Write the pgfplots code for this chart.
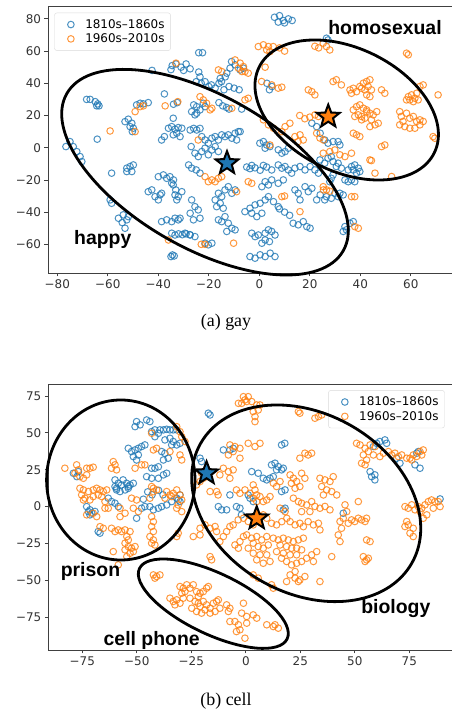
\documentclass[border=0pt]{standalone}
\usepackage{fontspec}
\setmainfont{Liberation Serif}
\newfontfamily\dejavu{DejaVu Sans}
\newfontfamily\lsans{Liberation Sans}
\usepackage{pgfplots}
\pgfplotsset{compat=1.18}
\definecolor{cb}{HTML}{1F77B4}
\definecolor{co}{HTML}{FF7F0E}
\pgfdeclareplotmark{fstar}{%
 \pgfpathmoveto{\pgfpointpolar{90}{\pgfplotmarksize}}%
 \pgfpathlineto{\pgfpointpolar{126}{0.42\pgfplotmarksize}}%
 \pgfpathlineto{\pgfpointpolar{162}{\pgfplotmarksize}}%
 \pgfpathlineto{\pgfpointpolar{198}{0.42\pgfplotmarksize}}%
 \pgfpathlineto{\pgfpointpolar{234}{\pgfplotmarksize}}%
 \pgfpathlineto{\pgfpointpolar{270}{0.42\pgfplotmarksize}}%
 \pgfpathlineto{\pgfpointpolar{306}{\pgfplotmarksize}}%
 \pgfpathlineto{\pgfpointpolar{342}{0.42\pgfplotmarksize}}%
 \pgfpathlineto{\pgfpointpolar{18}{\pgfplotmarksize}}%
 \pgfpathlineto{\pgfpointpolar{54}{0.42\pgfplotmarksize}}%
 \pgfpathclose
 \pgfusepathqfillstroke
}
\pgfplotsset{
 myaxis/.style={scale only axis, anchor=south west,
  axis line style={black!75, line width=0.8bp},
  tick align=outside, major tick length=3.5bp,
  tick style={black!75, line width=0.8bp},
  xtick pos=bottom, ytick pos=left,
  ticklabel style={font=\dejavu\fontsize{12}{12}\selectfont, text=black!80},
  legend cell align=left,
  legend style={draw=black!15, rounded corners=2.5bp, fill=white, fill opacity=0.8, text opacity=1,
   font=\dejavu\fontsize{12}{14}\selectfont, inner xsep=4bp, inner ysep=4.5bp, row sep=0bp,
   /tikz/every even column/.append style={column sep=5bp}},
 },
 bser/.style={draw=none, mark=o, mark size=3.3bp, mark options={draw=cb, line width=1bp, draw opacity=0.8}},
 oser/.style={draw=none, mark=o, mark size=3.3bp, mark options={draw=co, line width=1bp, draw opacity=0.8}},
 bstar/.style={only marks, mark=fstar, mark size=12bp, mark options={fill=cb, draw=black, line width=2bp}},
 ostar/.style={only marks, mark=fstar, mark size=12bp, mark options={fill=co, draw=black, line width=2bp}},
}
\begin{document}
\begin{tikzpicture}
\path[use as bounding box] (0bp,0bp) rectangle (452bp,716bp);
% ---------------- (a) gay ----------------
\begin{axis}[myaxis, at={(48bp,443bp)}, width=406bp, height=267bp,
 xmin=-83.7, xmax=77.1, ymin=-77.8, ymax=88,
 xtick={-80,-60,-40,-20,0,20,40,60}, xticklabels={−80,−60,−40,−20,0,20,40,60},
 ytick={-60,-40,-20,0,20,40,60,80}, yticklabels={−60,−40,−20,0,20,40,60,80},
 legend image code/.code={\path[mark repeat=2,mark phase=2,#1,draw=none] plot coordinates {(0bp,0bp) (12.4bp,0bp) (24.8bp,0bp)};},
 legend style={at={(0.0155,0.975)}, anchor=north west}]
\addplot[bser] coordinates {
(6,81) (8,82) (9.5,79) (11.5,80) (7.5,78) (10,77.5) (13,79)
(-24,59) (-22.5,59) (-42.5,48)
(-34.5,51) (-33,52) (-31,50) (-30,48) (-35,48.5) (-29,52) (-27.4,49)
(-11,53.5) (-9.6,51.5) (-7.6,48.3) (-6.3,49.4) (-11.6,49.4) (-12.9,46.3)
(-24,47) (-23.5,44) (-25,41) (-23,40) (-21.5,41) (-20,38) (-19,39) (-17.5,37) (-16,40) (-15,41) (-15.5,43) (-13.5,44)
(-12,38) (-10,37) (-8,36) (-14,36) (3,40) (5,38) (4,36)
(-68.4,30) (-67,30) (-65,28.6) (-64,27.2) (-63.5,26) (-64.4,26)
(-48.6,26.6) (-47.2,27.6) (-45.9,27.2) (-44,28)
(-37.6,33.4) (-32.5,28) (-34,27)
(-26,26.6) (-24.8,25.5) (-23.5,23.5) (-24.8,21.4) (-26.8,22.4) (-25.5,20.4) (-22.2,27.6) (-21.5,25.5)
(-16,28) (-14.5,26) (-13,25) (-12,24) (-7,24)
(-53.2,16.2) (-51.9,17.7) (-50.5,15.2) (-51.2,13.1) (-49.9,12.1) (-50.3,10)
(-34.1,18.3) (-38.7,4.8) (-37.6,6.9)
(-36,12.1) (-34.7,13.1) (-33.4,11.5) (-32.1,12.5) (-30.7,12.1) (-32.7,9) (-31.4,6.9) (-34.1,8)
(-27.4,11) (-26,12) (-24.8,11) (-23.5,12)
(-64.2,5.3)
(-76.6,0.7) (-75,3.8) (-73.7,0.7) (-72.3,-2.4) (-71,-5.5) (-70.3,-8.6)
(-22.8,6.9) (-21.5,4.8) (-20.2,2.8) (-18.8,5.9) (-17.5,6.9) (-16.2,4.8) (-14.9,8) (-13.6,6.9) (-12.3,8) (-10.9,5.9) (-9.6,9) (-8.3,10)
(-27,0.7) (-25.5,-3.4) (-24.2,-5.5) (-22.8,-2.4) (-21.5,-0.3) (-20.2,-4.4) (-18.8,-1.4) (-17.5,0.7) (-16.2,-2.4)
(-28,-10.7) (-26.8,-12.7) (-25,-13.8) (-23.5,-15.8)
(-58.5,-15.8)
(-52.5,-12.7) (-51.2,-11.7) (-49.9,-10.7) (-52.5,-14.8) (-50.5,-14.8)
(-59.1,-32.4) (-58.5,-34.5)
(-55.8,-43.8) (-53.9,-41.7) (-52.5,-44.8) (-51.9,-42.8) (-53.2,-50) (-54.3,-46.5)
(-40,-18) (-38,-16.9) (-36.7,-19) (-35.4,-18) (-34,-20) (-34.7,-22)
(-44,-27.3) (-42.6,-26.2) (-41.3,-30.4) (-39.3,-29.3) (-40,-32.4) (-38.7,-28.3)
(-34.1,-23.1) (-33.1,-26.2) (-33.4,-29.3) (-32.1,-30.4) (-32.7,-32.4) (-30.7,-27.3)
(-38.7,-45.9) (-36.7,-44.8) (-34.7,-45.9) (-33.4,-43.8) (-32.1,-44.8) (-31.4,-43.8)
(-34.7,-53.1) (-33.4,-54.2) (-32,-53.5) (-30.5,-54) (-29,-53.5) (-27.5,-54)
(-35,-67.6) (-34.4,-66.6) (-33.7,-67.2)
(-26.8,-32.4) (-25.5,-36.6) (-24.2,-38.6) (-27.4,-40.7) (-26.1,-44.8) (-23.5,-43.8)
(-29.4,-53.1) (-27.4,-54.2) (-25.5,-55.2)
(-17.5,-32.4) (-16.2,-28.3) (-14.9,-30.4) (-13.6,-26.2) (-12.3,-24.2) (-10.9,-28.3) (-9.6,-26.2) (-16.9,-36.6) (-15.5,-34.5) (-14.3,-37.6)
(-16.2,-44.8) (-14.9,-45.9) (-13.6,-42.8) (-12.3,-46.9) (-10.9,-50) (-9.6,-51) (-12.9,-52)
(-21.5,-59.3) (-20.2,-60.3) (-18.8,-59.3)
(-5,-12) (-3.7,-13) (-3,-11) (-1.7,-12.5) (0.3,-14) (1.6,-11) (2.9,-12) (4.9,-13.8) (7.5,-10.7) (8.9,-12.7) (10.2,-11.7) (11.5,-13.8) (12.8,-15.8) (14.1,-12.7) (16.1,-11.7) (18.1,-13.8) (20.1,-11.7) (22,-13.8) (23.4,-15.8)
(0.2,2.8) (1.6,3.8) (2.9,1.7) (4.2,0.7) (2.3,-0.3)
(7.5,-1.3) (8.9,-3.4) (10.2,-2.4) (11.5,-0.3)
(-7.6,10) (-9,4.8)
(-5.7,-39.7) (-3.7,-37.6) (-1.7,-35.5) (0.3,-34.5) (2.3,-32.4) (3.6,-30.4) (5.6,-33.5) (7.5,-36.6) (-3,-40.7) (-1,-42.8) (1,-40.7)
(2.3,-21.1) (3.6,-23.1) (4.9,-20) (1,-24.2) (7.5,-22.1) (9.5,-20)
(-3,-53.1) (-1.7,-55.2) (-0.4,-54.2) (2.3,-53.1) (3.6,-51) (4.9,-52) (6.2,-54.2) (2.3,-57.3) (1,-59.3) (4,-58.3)
(-3.7,-67.6) (-1.7,-68.6) (0.3,-66.5) (2.3,-67.6) (4.3,-65.5) (6.2,-67.6)
(14.1,-26.2) (15.4,-28.3) (18.1,-24.2) (19.4,-27.3) (20.8,-25.2) (16.1,-32.4)
(13.4,-46.9) (15.4,-47.9) (17.4,-45.9) (18.8,-49) (20.1,-50)
(22.7,-32.4) (24.1,-29.3)
(20.8,15.2) (22.7,13.1) (24.1,9)
(26.6,68) (27.2,66.9)
(25.9,4.8) (27.2,2.8) (31.2,3.8) (31.9,1.7) (29.2,3.8)
(24,-7.6) (25.9,-9.6) (27.2,-6.5) (28.5,-5.5) (29.2,-8.6) (31.2,-9.6) (30.5,-11.7) (32.5,-12.7)
(36.5,-11.7) (37.8,-10.7) (39.2,-12.7) (39.8,-14.8) (38.5,-15.8) (37.2,-13.8) (35.2,-13.8)
(29.2,-16.9) (28.5,-19) (27.9,-21.1) (33.9,-20) (35.2,-21.1) (36.5,-20) (37.8,-21.1)
(26.6,-30.4) (25.9,-32.4) (28.5,-31.4) (29.9,-28.3) (31.2,-30.4) (31.9,-28.3) (33.2,-29.3)
(33.9,-49) (34.5,-51) (33.2,-52) (35.9,-46.9) (37.2,-45.9)
(10,-40) (12,-42) (8,-38)
};
\addlegendentry{1810s–1860s}
\addplot[oser] coordinates {
(-0.4,62.8) (1.6,63.9) (3.6,62.8) (5.5,62.8) (2.9,60.7) (4.2,59.7) (8,62) (10,60)
(25.3,64.9) (26.6,62.8) (27.9,60.7) (22,63) (23.5,62)
(2.3,50)
(-9.6,54.5) (-7.6,52.5) (-6.3,50.4) (-5.7,47.3) (-4.4,46.3) (-8.3,49.4) (-6.9,47.3)
(-16.2,48.3) (-14.9,47.3) (-33,52.5)
(0.9,41.1) (4.9,39) (7.5,37) (8.9,37.6)
(-5.7,29.7) (-4.4,30.7)
(-23.5,31.7) (-22.2,29.7) (-20.9,27.6) (-19.5,23.5) (-18.8,24.5)
(-10.9,24.5) (-37.3,26) (-32.3,28.6)
(-49.2,22.4) (-47.2,25.5) (-45.9,26)
(-59.1,10.4) (-49.2,10) (-24.2,4.8)
(-21.5,-18) (-20.2,-21.1) (-18.8,-20) (-17.5,-21.1) (-16.2,-19) (-14.9,-18)
(-9,-27.3) (-4.4,-21.1) (-3,-22.1)
(8.9,-30.4) (10,-30) (16.1,-39.7)
(-10.2,-59.3) (-36,-57.3) (-23,-60) (-21.5,-60)
(4.2,1.7)
(20.8,34.8) (22,32.8) (19.4,35.9)
(14.1,6.9) (16.1,8) (17.4,4.8) (15.4,3.8)
(10.2,13.1) (12.1,15.2) (8.9,10)
(1.6,17.3) (3.6,14.2) (5.6,12.1)
(23.4,19.4) (22,20.4) (16,20) (18,18) (20,19)
(22.7,9) (24,6) (25.4,4.8)
(25.4,-26.2) (25.3,-24.2) (26.6,-26.2) (27.9,-27)
(29.2,41.1) (30.5,42.2) (32.5,39)
(35.9,35.9) (37.2,36.9) (38.5,34.8) (40.5,36.9) (41.8,35.9) (43.1,38) (43.8,42.2) (42.5,41.1) (41.2,40.1) (39.8,38) (44.4,35.9) (43.8,31.7) (42.5,32.8) (36.5,33.8)
(48.4,35.9) (49.7,33.8)
(64.9,39) (63.6,38) (70.8,32.8)
(58.3,58.7) (59,57.7)
(59,31.7) (60.3,32.8) (61.6,30.7) (62.3,33.8) (61,28.6) (59.6,29.7) (62.9,29.7) (58.3,29.7)
(37.2,23.5) (38.5,25.5) (39.8,26.6) (41.2,24.5) (42.5,23.5) (43.8,21.4) (45.1,20.4) (46.5,22.4) (39.2,20.4) (40.5,19.4) (37.8,19.4) (41.8,18.3) (44.4,17.3) (45.8,14.2) (43.8,13.1) (47.1,15.2) (42.5,22.4) (40.5,17.3)
(55.6,22.4) (56.2,19.4) (56.9,16.3) (58.3,21.4) (59.6,18.3) (61,19.4) (62.3,16.3) (63.6,17.3) (55.6,14.2) (57.6,13.1) (59.6,12.1) (61.6,12.1) (63.6,14.2) (64.9,16.3)
(37.2,9) (38.5,8) (39.8,6.9)
(48.4,0.7) (49.7,1.7)
(68.8,6.9) (69.5,5.9)
(25.3,-3.4) (27.9,-2.4) (29.9,-1.4) (31.9,-4.4) (33.9,-5.5) (36.5,-3.4)
(43.8,-7.6) (44.4,-8) (45.8,-15.8) (52.4,-17.9)
(36.5,-30.4) (37.8,-30.4) (37.8,-49) (39.2,-50)
};
\addlegendentry{1960s–2010s}
\addplot[bstar, forget plot] coordinates {(-12.8,-9.6)};
\addplot[ostar, forget plot] coordinates {(27.3,19.3)};
\end{axis}
% ---------------- (b) cell ----------------
\begin{axis}[myaxis, at={(48.3bp,66bp)}, width=405.7bp, height=265.7bp,
 xmin=-90.6, xmax=95.5, ymin=-97.2, ymax=82.9,
 xtick={-75,-50,-25,0,25,50,75}, xticklabels={−75,−50,−25,0,25,50,75},
 ytick={-75,-50,-25,0,25,50,75}, yticklabels={−75,−50,−25,0,25,50,75},
 legend image code/.code={\path[mark repeat=2,mark phase=2,#1,draw=none] plot coordinates {(0bp,0bp) (12.4bp,0bp) (24.8bp,0bp)};},
 legend style={at={(0.69,0.978)}, anchor=north west}]
\addplot[bser] coordinates {
(-50.1,57.6) (-48.5,55.4) (-50.8,54.2) (-45.5,58.7) (-44,57.6)
(-43.2,50.8) (-41.7,52) (-39.4,52) (-37.8,52) (-36.3,52.4) (-34.8,52) (-33.3,52) (-31.7,52) (-40.1,49.7) (-41.7,47.4)
(-37.1,45.2) (-34.8,46.3) (-33.3,44.1) (-31.7,41.8) (-34,41.8) (-30.2,42.9)
(-53.9,39.5) (-52.4,37.3) (-50.8,38.4) (-49.3,39.5) (-47.8,40.7) (-46.3,41.8) (-51.6,33.9) (-50.1,31.6) (-49.3,35)
(-38.6,37.3) (-37.1,36.1) (-35.6,32.8) (-37.8,31.6)
(-43.2,26) (-41.7,26) (-40.1,27)
(-45.5,20.3) (-43.2,19.2) (-40.1,19.2) (-37.8,21.5) (-36.3,22.6)
(-60,13.6) (-59.3,11.3) (-57.7,10.2) (-55.4,11.3) (-53.9,12.4) (-53.1,14.7) (-51.6,15.8)
(-60,18.1) (-58.5,15.8) (-57,14.7) (-54.7,15.8) (-56.3,18.1) (-53.9,13.6) (-59.3,12.4)
(-45,10) (-43,8) (-47,5) (-40,11) (-38,8)
(-63.1,5.7) (-61.6,3.4) (-60,2.3) (-58.5,0)
(-73,0) (-71.5,-2.2) (-70.7,-4.4) (-69.2,-3.3) (-72.2,-3.4) (-71.5,-5.6)
(-47.8,-1.1) (-46.3,0) (-44,0) (-42.4,-2.2) (-40.1,-1.1) (-38.6,0) (-36.3,1.1) (-34,3.4) (-31.7,5.7) (-30.2,7.9) (-31,4.5) (-30.2,3.4)
(-50.1,-7.9)
(-67.7,-16.9) (-66.9,-18)
(-79.1,22.6) (-77.5,20.3) (-76.8,23.7)
(-21,32.8) (-20.3,30.5)
(-17.2,63.3) (-16.4,62.1)
(-10.3,38.4) (-7.3,38.4) (-5.8,39.5)
(16.4,41.8) (17.9,42.9)
(2.7,23.7) (5.7,22.6) (8,19.2) (9.6,18.1) (11.1,19.2) (12.6,20.3)
(11.8,28.3) (13.4,29.4) (14.9,27.1) (16.4,24.9) (14.1,24.9) (17.2,26)
(-7.3,7.9) (1.1,7.9) (1.9,5.7) (3.4,3.4)
(-12.6,0) (-11.1,-2.2) (-8.8,-2.2)
(-4.3,0) (-2.7,-1.1) (-2,-5.6)
(16.4,10.2) (18,11.3) (18,-1.1) (17.2,-2.2)
(89.1,5.2) (44.7,-4.5)
(58.5,40.7) (60,42.9) (61.5,44.1) (63.8,45.2) (64.6,42.9)
(57,23.7) (57.7,20.3) (59.2,18.1) (59.2,21.5)
(69.2,32.8) (70.7,29.4) (77.6,28.3) (79.9,26) (78.4,36.2) (79.1,37.3)
};
\addlegendentry{1810s–1860s}
\addplot[oser] coordinates {
(-83,26) (-77.6,28.3) (-76.8,24.9) (-74.5,19.2) (-73,26) (-71.5,26) (-70,26.7)
(-76.1,12.4) (-74.5,11.3) (-75.3,7.9) (-73.8,5.7) (-72.2,10.2) (-70,11.3) (-68.4,12.4) (-66.9,11.3) (-65.4,10.2) (-63.8,11.3) (-74.5,4.5) (-71.5,4.5) (-70,6.8) (-67.7,7.9) (-66.1,6.8) (-64.6,3.4)
(-73,-5.6) (-70,-4.5) (-68.4,-6.8) (-64.6,-1.1) (-63.1,-1.1)
(-60.8,30.5) (-60,28.3) (-61.6,26) (-59.3,24.9) (-50.8,26) (-47.8,28.3) (-46.3,28.3)
(-43.2,13.6) (-42.4,12.4) (-40.9,11.3) (-42.4,10.1) (-44,5.7)
(-36.3,10.2) (-34.8,7.9) (-33.3,9) (-31.7,11.3) (-30.2,7.9) (-29.4,4.5) (-31,1.1) (-29.4,-3.4) (-31.7,-1.1) (-34,6.8) (-37.1,5.7)
(-52.4,5.7) (-50.1,4.5)
(-57.7,-1.1) (-55.4,-4.5) (-57.7,-6.8) (-51.6,-1.1) (-49.3,-3.4)
(-61.6,-14.7) (-60,-16.9) (-58.5,-15.8) (-57,-16.9) (-55.4,-15.8) (-53.1,-16.9) (-54.6,-20.3) (-53.9,-22.6)
(-66.9,-13.6) (-65.4,-14.7)
(-55.4,-24.8) (-53.9,-27.1) (-52.4,-28.2) (-50.8,-27.1) (-53.1,-31.6) (-54.6,-33.9) (-51.6,-30.5) (-55.4,-29.3)
(-60.8,-30.5) (-58.5,-39.5)
(-43.2,-6.8) (-42.4,-10.2) (-43.2,-13.5) (-42.4,-16.9) (-44,-20.3) (-43.2,-24.8) (-41.7,-26) (-42.4,-22.6)
(-31.7,-20.3) (-31,-18)
(-42.4,38.4) (-40.9,39.5) (-31.7,54.2) (-30.2,50.8) (-29.4,47.4) (-27.9,44.1) (-30.2,35) (-29.4,31.6) (-43.2,49.7) (-34.8,37.3)
(-78.4,22.6) (-76.1,20.3) (-73,21.5)
(-21,17) (-19.5,19.2) (-18,20.3) (-22.6,14.7) (-20.3,22.6)
(-16.4,10.2) (-13.4,10.2) (-12.7,7.9)
(-24.1,-20.3) (-21,-19.2)
(-16.4,-14.7) (-14.1,-13.5) (-13.4,-16.9) (-18.7,-12.4) (-21,-14.7)
(-16.4,-33.9) (-15.7,-36.1)
(-3.4,70) (-0.4,72.3) (1.1,74.5) (2.7,71.2) (5,68.9) (5.7,65.5) (3.4,64.4) (4.2,61) (4.2,57.6) (6.5,68.9) (-1.1,74.5) (0.4,71.2) (-1.9,70)
(24.1,64.4) (24.8,63.3) (31.7,59.9) (33.3,61) (34.8,62.1)
(-7.3,41.8) (-5,40.7) (-5.8,37.3) (-8,35) (-2.7,39.5) (1.1,42.9) (4.2,40.7) (6.5,42.9)
(24.8,32.8) (27.1,36.2) (28.6,35) (30.2,36.2)
(-10.3,26) (-8,23.7) (-5.8,24.9) (-7.3,19.2) (-11.9,21.5) (-2.7,32.8)
(-4.3,11.3) (-2.7,9) (-0.4,11.3) (1.9,9) (4.2,11.3) (5,7.9) (3.4,14.7)
(20.3,21.5) (21.8,19.2) (23.3,17) (20.9,15.8) (25.6,22.6) (27.1,19.2) (24.8,13.6) (22.6,12.4)
(34,19.2) (36.3,18.1) (38.6,17) (40.1,20.3) (34.8,13.6) (37.1,11.3) (39.4,10.2) (41.7,7.9) (35.6,7.9)
(21.8,5.7) (24.1,3.4) (25.6,2.3) (27.9,1.1) (30.2,3.4) (31.7,0.1) (34,-1.1) (36.3,0.1) (38.6,-2.2) (29.4,-3.4) (25.6,-3.4)
(15.7,-1.1) (18,-3.4) (18.8,-7.9) (16.5,-10.2) (14.1,-12.4) (11.8,-11.3) (9.6,-7.9) (8,-5.6)
(20.3,-10.2) (22.6,-12.4) (24.8,-11.3) (26.4,-13.6) (28.6,-10.2) (31,-12.4) (33.3,-11.3)
(45.5,1.2) (46.3,-3.4) (44.7,-7.9) (43.2,-10.1) (47,-11.3) (48.5,-9) (50,-10.1) (51.6,-7.9) (53.1,-9) (54.7,-10.1) (55.4,-7.9) (43.9,-14.7) (42.4,-19.2) (43.2,-23.7)
(73,0) (74.5,-1.1) (76.1,1.2) (77.6,-2.2) (79.1,0) (80.7,-1.1) (82.2,1.2) (83.7,3.4) (85.2,4.5) (86.8,3.4) (88.3,3.4) (89.1,0) (86,-1.1) (83,-5.6) (81.4,-7.9) (79.9,-3.4) (73.8,-10.1) (73,-13.5) (74.5,-12.4) (76.8,-14.7) (75.3,-18) (76.8,-20.3)
(50.8,42.9) (52.4,41.8) (54.7,39.5) (56.2,37.3) (53.9,35) (55.4,31.6) (54.7,28.3) (53.1,29.4) (58.5,35) (61.5,33.9) (63.1,36.2) (65.4,37.3) (66.9,35) (68.4,36.2) (70,33.9) (71.5,35) (73.8,32.8) (76.1,31.6) (78.4,34) (79.9,37.3) (81.4,38.4) (80.7,35) (76.8,35) (75.3,32.8) (57,41.8) (59.3,40.7)
(12.6,-21.4) (14.9,-22.6) (17.2,-21.4) (19.5,-22.6) (21.8,-23.7) (24.1,-22.6) (26.4,-21.4) (15.7,-26) (18.7,-27.1) (21,-28.2) (23.3,-28.2) (25.6,-29.3) (17.2,-31.6) (20.3,-32.7) (23.3,-32.7) (14.1,-30.5) (16.4,-35) (18.7,-37.2) (21,-39.5) (23.3,-38.4) (25.6,-37.2) (27.9,-35) (30.2,-32.7) (32.5,-30.5) (31,-37.2) (22.6,-44) (20.3,-46.3) (22.6,-48.5) (24.8,-49.7) (27.1,-47.4) (18.7,-50.8) (24.1,-50.8)
(34,-50.8) (39.4,-33.9) (34,-15.8) (51.6,3.4)
(53.9,-33.9) (55.4,-36.1) (56.2,-35) (54.7,-37.2) (55.4,-22.6) (57,-23.7)
(0.4,-19.2) (2.7,-21.4) (5,-20.3) (7.3,-22.6) (9.6,-20.3) (3.4,-24.8) (5.7,-27.1) (8,-28.2) (10.3,-26) (1.1,-28.2) (3.4,-31.6) (6.5,-32.7) (9.6,-32.7) (11.1,-37.2) (8,-38.4) (5,-36.1) (-1.1,-20.3) (-2.7,-23.7) (-5,-26)
(-1.1,-7.9) (1.1,-10.1) (3.4,-12.4) (-3.5,-9) (-5.8,-12.4)
(-7.3,-13.5) (-8.8,-16.9) (-10.3,-20.3) (-11.9,-23.7)
(3.4,-46.3) (5.7,-48.5) (12.6,-55.3) (11.8,-53) (-3.4,-28.2)
(3.4,5.7) (5,3.4) (6.5,6.8) (8,3.4) (9.6,4.5) (11.1,6.8)
(12.6,15.9) (14.1,13.6) (15.7,17)
(-42.4,-46.3) (-40.9,-47.4) (-39.4,-46.3) (-41.7,-48.5)
(-30.2,-54.2) (-28.7,-55.3) (-27.1,-53) (-27.9,-57.6) (-29.4,-58.7) (-25.6,-55.3) (-24.1,-53) (-22.6,-57.6) (-21,-58.7) (-21.8,-61) (-19.5,-57.6) (-18,-55.3) (-17.2,-54.2)
(-34.8,-62.1) (-33.3,-64.3) (-31.7,-63.2) (-32.5,-66.6) (-30.2,-65.5) (-28.7,-62.1)
(-25.6,-62.1) (-23.3,-64.3) (-21.8,-65.5) (-21,-67.7) (-19.5,-64.3) (-18,-66.6) (-16.4,-68.9) (-14.9,-65.5) (-13.4,-64.3) (-12.6,-63.2) (-24.8,-68.9) (-22.6,-71.1) (-20.3,-72.2) (-18.7,-70) (-16.4,-72.2) (-14.1,-71.1) (-11.9,-68.9)
(-8.8,-66.6) (-7.3,-68.9) (-8,-71.1) (-1.1,-65.5) (-1.9,-72.2) (0.4,-74.5) (3.4,-73.4) (5,-75.6) (-7.3,-77.9) (-5,-77.9) (-3.4,-80.1) (-2.7,-83.5) (-0.4,-89.2) (-4.3,-84.7) (0.4,-79) (9.6,-80.1) (12.6,-81.3) (14.9,-82.4) (13.4,-80.1)
};
\addlegendentry{1960s–2010s}
\addplot[bstar, forget plot] coordinates {(-18,22.6)};
\addplot[ostar, forget plot] coordinates {(5,-7.9)};
\end{axis}
% ellipses and labels
\begin{scope}[line width=2.8bp, black]
\draw[rotate around={-29.6:(205bp,543.8bp)}] (205bp,543.8bp) ellipse [x radius=159bp, y radius=76.3bp];
\draw[rotate around={-26:(346.7bp,606bp)}] (346.7bp,606bp) ellipse [x radius=97.5bp, y radius=61.7bp];
\draw (120.8bp,236bp) ellipse [x radius=74.2bp, y radius=80bp];
\draw[rotate around={-29.5:(306.2bp,212.7bp)}] (306.2bp,212.7bp) ellipse [x radius=121.4bp, y radius=89.7bp];
\draw[rotate around={-25.5:(213.3bp,112.3bp)}] (213.3bp,112.3bp) ellipse [x radius=81.8bp, y radius=30.5bp];
\end{scope}
\begin{scope}[every node/.style={anchor=base, inner sep=0pt, font=\lsans\bfseries\fontsize{19.5}{20}\selectfont}]
\node at (385bp,681bp) {homosexual};
\node at (102.8bp,471bp) {happy};
\node at (90.5bp,139.3bp) {prison};
\node at (395.8bp,102.7bp) {biology};
\node at (151.7bp,70.3bp) {cell phone};
\end{scope}
\node[anchor=base, inner sep=0pt, font=\fontsize{18}{20}\selectfont] at (226bp,389bp) {(a) gay};
\node[anchor=base, inner sep=0pt, font=\fontsize{18}{20}\selectfont] at (226bp,11bp) {(b) cell};
\end{tikzpicture}
\end{document}
